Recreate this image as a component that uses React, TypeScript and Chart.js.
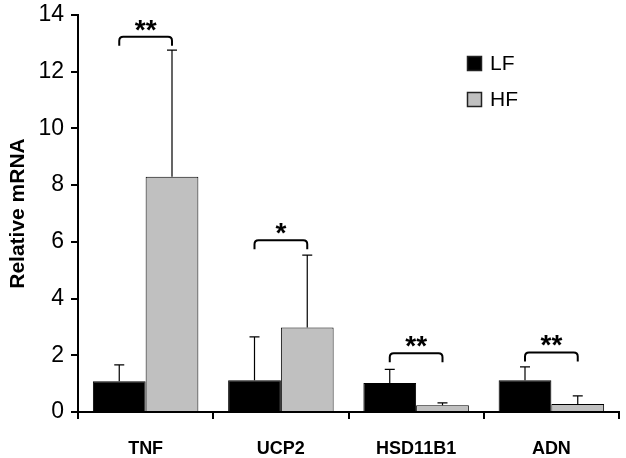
import React, { useEffect, useRef } from "react";
import { Chart, registerables } from "chart.js";

Chart.register(...registerables);

const categories = ["TNF", "UCP2", "HSD11B1", "ADN"];
const seriesNames = ["LF", "HF"];
const lfValues = [1.08, 1.12, 1.02, 1.12];
const hfValues = [8.3, 2.98, 0.24, 0.28];
const lfErrors = [0.58, 1.53, 0.48, 0.47];
const hfErrors = [4.46, 2.55, 0.08, 0.29];
const sigLabels = ["**", "*", "**", "**"];
const bracketLevels = [13.23, 6.06, 2.07, 2.1];
const yTicks = [0, 2, 4, 6, 8, 10, 12, 14];

const FONT = '"Liberation Sans", Arial, Helvetica, sans-serif';
const LF_COLOR = "#000000";
const HF_COLOR = "#c0c0c0";

const errorPlugin = {
  id: "errorBars",
  afterDatasetsDraw(chart: any) {
    const ctx = chart.ctx;
    const ys = chart.scales.y;
    const errs = [lfErrors, hfErrors];
    const vals = [lfValues, hfValues];
    ctx.save();
    ctx.strokeStyle = "#000";
    ctx.lineWidth = 1.2;
    [0, 1].forEach((d) => {
      const meta = chart.getDatasetMeta(d);
      meta.data.forEach((bar: any, i: number) => {
        const top = ys.getPixelForValue(vals[d][i]);
        const et = ys.getPixelForValue(vals[d][i] + errs[d][i]);
        ctx.beginPath();
        ctx.moveTo(bar.x, top);
        ctx.lineTo(bar.x, et);
        ctx.moveTo(bar.x - 5, et);
        ctx.lineTo(bar.x + 5, et);
        ctx.stroke();
      });
    });
    // significance brackets
    const m0 = chart.getDatasetMeta(0);
    const m1 = chart.getDatasetMeta(1);
    ctx.lineWidth = 2;
    categories.forEach((_, i) => {
      const x1 = m0.data[i].x;
      const x2 = m1.data[i].x;
      const y = ys.getPixelForValue(bracketLevels[i]);
      const r = 4;
      const h = 9;
      ctx.beginPath();
      ctx.moveTo(x1, y + h);
      ctx.lineTo(x1, y + r);
      ctx.quadraticCurveTo(x1, y, x1 + r, y);
      ctx.lineTo(x2 - r, y);
      ctx.quadraticCurveTo(x2, y, x2, y + r);
      ctx.lineTo(x2, y + h);
      ctx.stroke();
      ctx.fillStyle = "#000";
      ctx.font = `bold 28px ${FONT}`;
      ctx.textAlign = "center";
      ctx.textBaseline = "alphabetic";
      ctx.fillText(sigLabels[i], (x1 + x2) / 2, y + 2);
    });
    // legend
    const colors = [LF_COLOR, HF_COLOR];
    seriesNames.forEach((name, i) => {
      const bx = 467;
      const by = 56 + i * 36;
      ctx.fillStyle = colors[i];
      ctx.fillRect(bx, by, 15, 15);
      ctx.lineWidth = 1.5;
      ctx.strokeStyle = "#222";
      ctx.strokeRect(bx + 0.5, by + 0.5, 14, 14);
      ctx.fillStyle = "#000";
      ctx.font = `21px ${FONT}`;
      ctx.textAlign = "left";
      ctx.textBaseline = "middle";
      ctx.fillText(name, bx + 23, by + 8);
    });
    ctx.restore();
  },
};

export default function App() {
  const ref = useRef<HTMLCanvasElement>(null);
  useEffect(() => {
    if (!ref.current) return;
    const chart = new Chart(ref.current, {
      type: "bar",
      data: {
        labels: categories,
        datasets: [
          {
            label: seriesNames[0],
            data: lfValues,
            backgroundColor: LF_COLOR,
            borderColor: "#000",
            borderWidth: 1,
            barPercentage: 1,
            categoryPercentage: 0.78,
          },
          {
            label: seriesNames[1],
            data: hfValues,
            backgroundColor: HF_COLOR,
            borderColor: "#000",
            borderWidth: 1,
            barPercentage: 1,
            categoryPercentage: 0.78,
          },
        ],
      },
      options: {
        animation: false,
        responsive: false,
        layout: { padding: { left: 0, right: 7, top: 15, bottom: 0 } },
        plugins: { legend: { display: false }, tooltip: { enabled: false } },
        scales: {
          x: {
            grid: {
              display: true,
              drawOnChartArea: false,
              drawTicks: true,
              tickLength: 7,
              color: "#000",
              lineWidth: 2,
              offset: true,
            },
            border: { color: "#000", width: 2 },
            ticks: {
              color: "#000",
              font: { family: FONT, size: 18, weight: "bold" },
              padding: 19,
              maxRotation: 0,
            },
            afterFit(scale: any) {
              scale.height = 46;
              scale.paddingLeft = 0;
              scale.paddingRight = 0;
            },
          },
          y: {
            min: 0,
            max: 14,
            afterBuildTicks(scale: any) {
              scale.ticks = yTicks.map((v) => ({ value: v }));
            },
            grid: {
              display: true,
              drawOnChartArea: false,
              drawTicks: true,
              tickLength: 7,
              color: "#000",
              lineWidth: 2,
            },
            border: { color: "#000", width: 2 },
            ticks: {
              color: "#000",
              font: { family: FONT, size: 23 },
              padding: 7,
            },
            title: {
              display: true,
              text: "Relative mRNA",
              color: "#000",
              font: { family: FONT, size: 21, weight: "bold" },
              padding: { top: 6, bottom: 0 },
            },
            afterFit(scale: any) {
              scale.width = 78;
              scale.paddingTop = 0;
              scale.paddingBottom = 0;
            },
          },
        },
      },
      plugins: [errorPlugin],
    } as any);
    return () => chart.destroy();
  }, []);
  return (
    <div style={{ position: "absolute", left: 0, top: 0, width: 626, height: 458, background: "#fff" }}>
      <canvas ref={ref} width={626} height={458} />
    </div>
  );
}
